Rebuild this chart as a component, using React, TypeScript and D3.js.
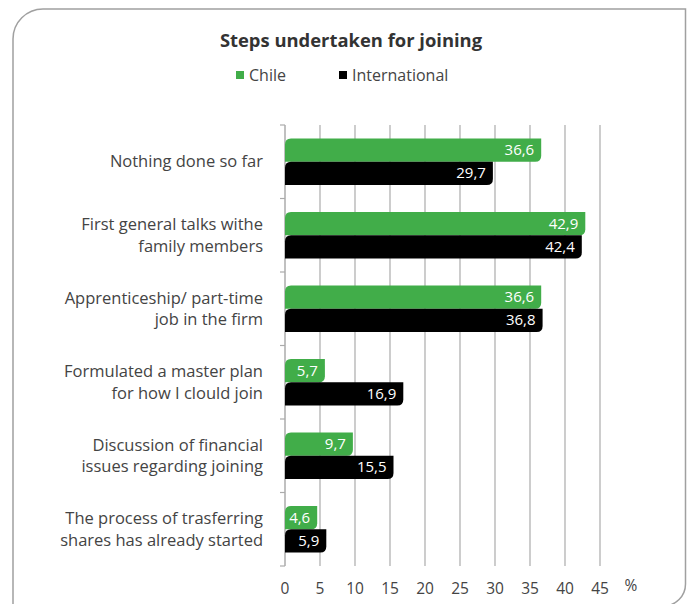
import React from "react";
import * as d3 from "d3";

const categories: string[][] = [
  ["Nothing done so far"],
  ["First general talks withe", "family members"],
  ["Apprenticeship/ part-time", "job in the firm"],
  ["Formulated a master plan", "for how I clould join"],
  ["Discussion of financial", "issues regarding joining"],
  ["The process of trasferring", "shares has already started"],
];
const chileValues = [36.6, 42.9, 36.6, 5.7, 9.7, 4.6];
const internationalValues = [29.7, 42.4, 36.8, 16.9, 15.5, 5.9];
const seriesNames = ["Chile", "International"];
const seriesColors = ["#41ad49", "#000000"];
const xTicks = [0, 5, 10, 15, 20, 25, 30, 35, 40, 45];
const title = "Steps undertaken for joining";

const W = 691;
const H = 604;
const FONT = "'Open Sans', 'Noto Sans', sans-serif";

function leafRect(x0: number, x1: number, y0: number, y1: number, r: number) {
  const w = x1 - x0;
  const rr = Math.min(r, w / 2, (y1 - y0) / 2);
  return `M${x0},${y1} V${y0 + rr} Q${x0},${y0} ${x0 + rr},${y0} H${x1} V${y1 - rr} Q${x1},${y1} ${x1 - rr},${y1} Z`;
}

export default function App() {
  const x = d3.scaleLinear().domain([0, 45]).range([285, 600]);
  const idx = categories.map((_, i) => String(i));
  const y = d3
    .scaleBand<string>()
    .domain(idx)
    .range([125, 566])
    .paddingInner(0.37)
    .paddingOuter(0.185);
  const ySub = d3.scaleBand<string>().domain(seriesNames).range([0, y.bandwidth()]);
  const step = y.step();
  const bandTop = (i: number) => 125 + i * step;
  const data = [chileValues, internationalValues];
  const fmt = (v: number) => v.toFixed(1).replace(".", ",");

  return (
    <svg
      width={W}
      height={H}
      style={{ position: "absolute", left: 0, top: 0, background: "#fff" }}
      fontFamily={FONT}
    >
      <path
        d="M13,620 V39 A30,30 0 0 1 43,9 H685.5 V584 A22,22 0 0 1 663.5,606 H13"
        fill="none"
        stroke="#a0a0a0"
        strokeWidth={1.5}
      />
      <text x={351} y={47} textAnchor="middle" fontSize={18.4} fontWeight={700} fill="#333">
        {title}
      </text>
      {seriesNames.map((s, i) => {
        const lx = [236, 339][i];
        return (
          <g key={s}>
            <rect x={lx} y={71} width={8} height={8} fill={seriesColors[i]} />
            <text x={lx + 13} y={81} fontSize={16} fill="#444">
              {s}
            </text>
          </g>
        );
      })}
      {xTicks.slice(1).map((t) => (
        <line key={t} x1={x(t)} x2={x(t)} y1={125} y2={566} stroke="#ababab" strokeWidth={1.2} />
      ))}
      <line x1={x(0)} x2={x(0)} y1={125} y2={566} stroke="#ababab" strokeWidth={1.5} />
      {d3.range(categories.length + 1).map((i) => (
        <line key={i} x1={280} x2={x(0)} y1={bandTop(i)} y2={bandTop(i)} stroke="#ababab" strokeWidth={1.2} />
      ))}
      {categories.map((lines, i) => {
        const cy = (y(String(i)) as number) + y.bandwidth() / 2;
        return (
          <text key={i} textAnchor="end" fontSize={16.5} fill="#444">
            {lines.map((ln, j) => (
              <tspan key={j} x={263} y={cy + 5.5 + (j - (lines.length - 1) / 2) * 21.5}>
                {ln}
              </tspan>
            ))}
          </text>
        );
      })}
      {seriesNames.map((s, si) =>
        data[si].map((v, i) => {
          const y0 = (y(String(i)) as number) + (ySub(s) as number);
          const y1 = y0 + ySub.bandwidth();
          return (
            <g key={s + i}>
              <path d={leafRect(x(0), x(v), y0, y1, 6)} fill={seriesColors[si]} />
              <text
                x={x(v) - 7}
                y={(y0 + y1) / 2 + 5}
                textAnchor="end"
                fontSize={15}
                fill="#fff"
              >
                {fmt(v)}
              </text>
            </g>
          );
        })
      )}
      {xTicks.map((t) => (
        <text key={t} x={x(t)} y={594} textAnchor="middle" fontSize={15.5} fill="#444">
          {t}
        </text>
      ))}
      <text x={631} y={591} textAnchor="middle" fontSize={15.5} fill="#444">
        %
      </text>
    </svg>
  );
}
